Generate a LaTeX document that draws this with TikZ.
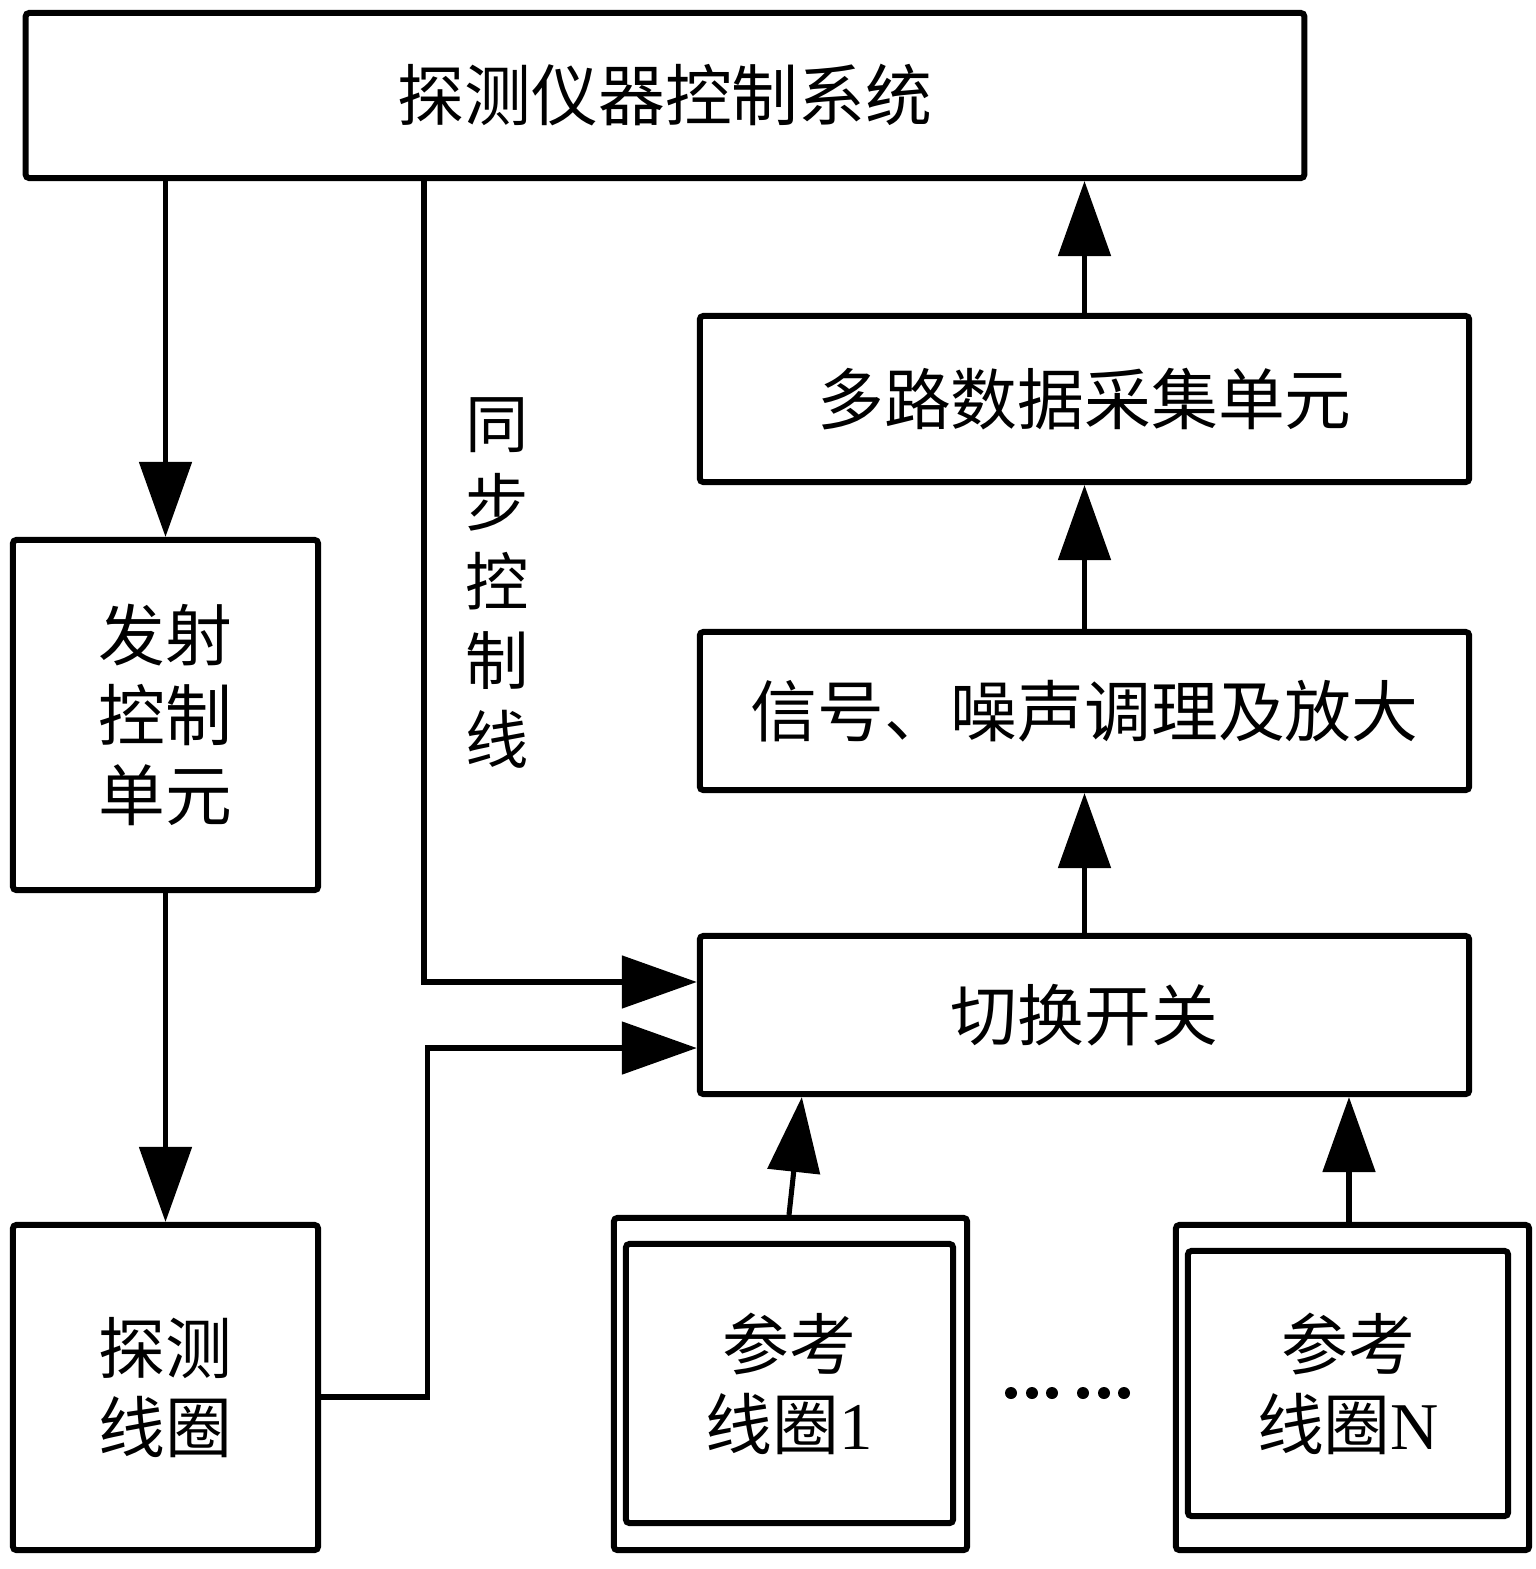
\documentclass[tikz,border=0pt]{standalone}
\usepackage{fontspec}
\setmainfont{Noto Sans CJK SC}
\newfontfamily\latinserif{Liberation Serif}
\usetikzlibrary{arrows.meta,positioning}
\tikzset{
  box/.style={draw, line width=1.7pt, rounded corners=1pt, inner sep=0pt, align=center,
    font=\fontsize{19}{22.7}\selectfont},
  arr/.style={line width=1.45pt, -{Triangle[length=0.75cm,width=0.52cm]}},
  wire/.style={line width=1.45pt},
  vlabel/.style={inner sep=0pt, align=center, font=\fontsize{18}{22.4}\selectfont},
  dot/.style={fill=black}
}
\begin{document}
\begin{tikzpicture}[x=0.01cm,y=-0.01cm]
\useasboundingbox (0,0) rectangle (1535,1569);
% boxes
\node[box, minimum width=12.78cm, minimum height=1.65cm] (top) at (665,95.5) {探测仪器控制系统};
\node[box, minimum width=3.05cm, minimum height=3.50cm] (fashe) at (165.5,715) {发射\\控制\\单元};
\node[box, minimum width=3.05cm, minimum height=3.25cm] (tance) at (165.5,1387.5) {探测\\线圈};
\node[box, minimum width=7.69cm, minimum height=1.66cm] (duolu) at (1084.5,399) {多路数据采集单元};
\node[box, minimum width=7.69cm, minimum height=1.58cm] (xinhao) at (1084.5,711) {信号、噪声调理及放大};
\node[box, minimum width=7.69cm, minimum height=1.58cm] (qiehuan) at (1084.5,1015) {切换开关};
% reference coils
\node[box, minimum width=3.53cm, minimum height=3.32cm] (ref1) at (790.5,1384) {};
\node[box, minimum width=3.27cm, minimum height=2.79cm] (ref1in) at (789.5,1383.5) {参考\\线圈{\latinserif 1}};
\node[box, minimum width=3.53cm, minimum height=3.25cm] (refN) at (1352.5,1387.5) {};
\node[box, minimum width=3.20cm, minimum height=2.65cm] (refNin) at (1348,1383.5) {参考\\线圈{\latinserif N}};
% vertical label
\node[vlabel] (sync) at (497,583) {同\\步\\控\\制\\线};
% helper coordinates
\coordinate (sx) at (424,0);
\coordinate (q1) at ([yshift=0.33cm]qiehuan.west);
\coordinate (q2) at ([yshift=-0.33cm]qiehuan.west);
\coordinate (t1) at ([yshift=-0.095cm]tance.east);
\coordinate (r1s) at ([xshift=-0.015cm]ref1.north);
\coordinate (r1e) at ([xshift=1.05cm]qiehuan.south west);
\coordinate (rNs) at ([xshift=-0.035cm]refN.north);
% connectors
\draw[arr] (top.south -| fashe.north) -- (fashe.north);
\draw[arr] (fashe.south) -- (tance.north);
\draw[arr] (top.south -| sx) |- (q1);
\draw[arr] (t1) -- ++(106,0) |- (q2);
\draw[arr] (qiehuan.north) -- (xinhao.south);
\draw[arr] (xinhao.north) -- (duolu.south);
\draw[arr] (duolu.north) -- (top.south -| duolu.north);
\draw[arr] (r1s) -- (r1e);
\draw[arr] (rNs) -- (qiehuan.south -| rNs);
% dots
\foreach \dx in {1011,1032,1052,1083,1104,1124}
  \fill[dot] (\dx,1393) circle[radius=0.06cm];
\end{tikzpicture}
\end{document}
